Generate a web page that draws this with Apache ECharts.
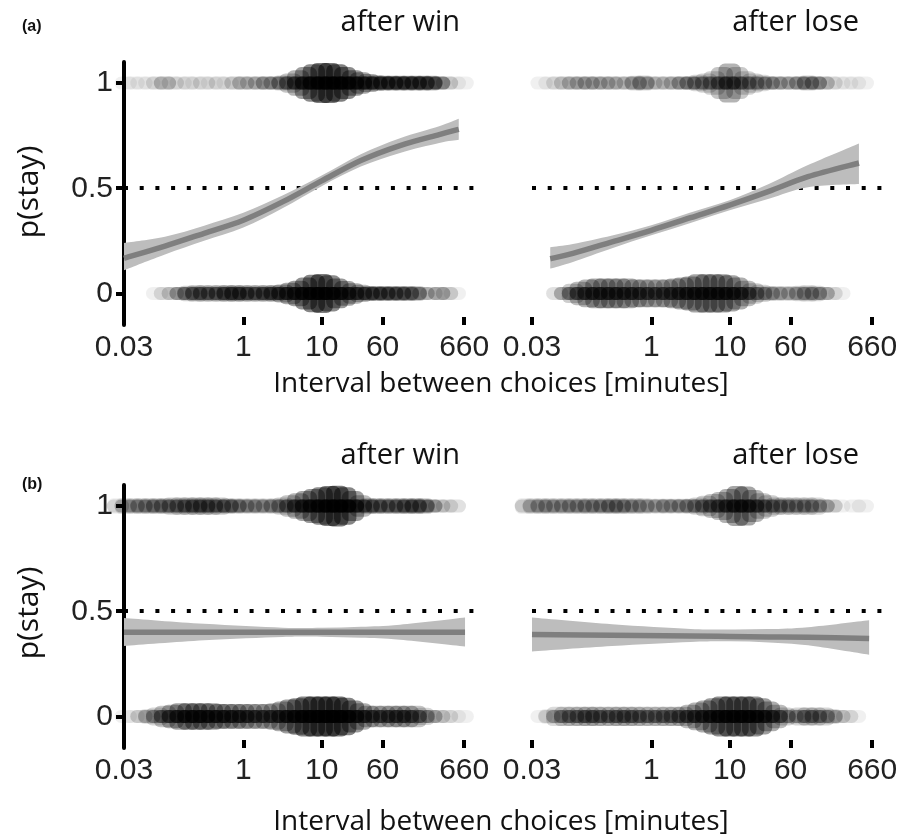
<!DOCTYPE html>
<html>
<head>
<meta charset="utf-8">
<script src="https://cdn.jsdelivr.net/npm/echarts@6/dist/echarts.min.js"></script>
<style>
html, body { margin: 0; padding: 0; background: #fff; }
#chart { width: 914px; height: 838px; }
</style>
</head>
<body>
<div id="chart"></div>
<script>
// x axis tick labels (minutes), drawn on a log10 axis
var tickMinutes = [0.03, 1, 10, 60, 660];
var tickText = ['0.03', '1', '10', '60', '660'];
var yTicks = [0, 0.5, 1];

// bin centres of the dot strips, log10(minutes)
var binLog = [-1.6, -1.5, -1.4, -1.3, -1.2, -1.1, -1.0, -0.9, -0.8, -0.7,
  -0.6, -0.5, -0.4, -0.3, -0.2, -0.1, 0, 0.1, 0.2, 0.3,
  0.4, 0.5, 0.6, 0.7, 0.8, 0.9, 1.0, 1.1, 1.2, 1.3,
  1.4, 1.5, 1.6, 1.7, 1.8, 1.9, 2.0, 2.1, 2.2, 2.3,
  2.4, 2.5, 2.6, 2.7, 2.8, 2.9];

// (a) after win: observations per bin at stay (1) and switch (0), and vertical jitter reach
var aWinStayN = [0,1,1,1,1, 2,4,2,1,2, 1,2,1,2,1, 3,4,3,4,6, 5,8,12,16,22, 28,32,34,32,28, 24,20,17,15,15, 15,14,14,14,14, 13,8,3,1,1, 0];
var aWinStayJ = [0,0,0,0,0, 0,0,0,0,0, 0,0,0,0,0, 0,0,0,0,0, 0,0.005,0.015,0.03,0.045, 0.058,0.064,0.064,0.058,0.045, 0.03,0.02,0.012,0.006,0.004, 0.004,0.004,0.004,0.004,0.004, 0.004,0,0,0,0, 0];
var aWinSwitchN = [0,0,0,0,0, 1,2,3,6,9, 11,11,9,11,14, 15,13,11,11,13, 14,16,19,22,26, 30,32,28,24,20, 17,14,13,12,12, 11,11,10,9,4, 2,5,3,1,0, 0];
var aWinSwitchJ = [0,0,0,0,0, 0,0,0,0,0.006, 0.008,0.008,0.008,0.008,0.008, 0.008,0.008,0.008,0.008,0.008, 0.008,0.012,0.02,0.03,0.045, 0.058,0.062,0.055,0.04,0.028, 0.018,0.01,0.005,0.005,0.005, 0.005,0.005,0.005,0.005,0, 0,0,0,0,0, 0];
// (a) after lose
var aLoseStayN = [0,0,1,1,2, 3,4,4,5,4, 4,4,3,3,6, 7,3,3,3,4, 6,7,8,8,9, 12,16,11,9,8, 7,6,5,4,4, 6,8,7,4,2, 1,1,1,1,0, 0];
var aLoseStayJ = [0,0,0,0,0, 0,0,0,0,0, 0,0,0,0,0.004, 0.005,0,0,0,0, 0,0,0.008,0.015,0.025, 0.045,0.062,0.045,0.025,0.015, 0.008,0,0,0,0, 0,0.005,0,0,0, 0,0,0,0,0, 0];
var aLoseSwitchN = [0,0,0,0,2, 5,10,14,16,17, 17,17,16,16,15, 14,13,13,14,16, 17,19,20,21,21, 21,20,18,14,10, 8,6,5,4,4, 6,7,7,5,2, 1,0,0,0,0, 0];
var aLoseSwitchJ = [0,0,0,0,0, 0,0.015,0.025,0.035,0.04, 0.04,0.04,0.04,0.04,0.035, 0.035,0.035,0.035,0.035,0.04, 0.045,0.05,0.06,0.06,0.06, 0.06,0.055,0.045,0.03,0.018, 0.01,0.004,0.004,0.004,0.004, 0.006,0.008,0.006,0,0, 0,0,0,0,0, 0];
// (b) after win
var bWinStayN = [3,5,6,7,7, 8,8,9,10,11, 12,12,11,10,10, 8,6,6,6,5, 7,8,12,16,20, 24,28,32,34,30, 22,14,11,10,9, 9,10,11,12,10, 6,3,2,2,0, 0];
var bWinStayJ = [0.006,0.006,0.006,0.006,0.006, 0.006,0.006,0.01,0.01,0.01, 0.01,0.01,0.01,0.01,0.005, 0.005,0.005,0.005,0.005,0.005, 0.005,0.01,0.02,0.03,0.04, 0.05,0.058,0.064,0.066,0.058, 0.04,0.02,0.006,0.006,0.006, 0.006,0.006,0.006,0.006,0.006, 0,0,0,0,0, 0];
var bWinSwitchN = [0,1,1,3,5, 8,12,16,20,22, 24,22,20,20,18, 18,17,15,14,14, 15,18,22,26,30, 32,34,35,34,30, 24,18,15,13,13, 14,15,14,12,8, 5,3,2,1,1, 0];
var bWinSwitchJ = [0,0,0,0,0.005, 0.012,0.02,0.025,0.032,0.032, 0.032,0.032,0.032,0.028,0.028, 0.028,0.028,0.028,0.028,0.028, 0.032,0.04,0.05,0.056,0.064, 0.064,0.064,0.064,0.064,0.058, 0.045,0.032,0.02,0.02,0.02, 0.02,0.02,0.02,0.02,0.01, 0,0,0,0,0, 0];
// (b) after lose
var bLoseStayN = [4,5,6,6,5, 6,6,6,7,6, 7,8,8,6,6, 6,4,5,6,5, 6,7,8,10,12, 14,17,20,20,16, 12,10,9,8,8, 7,8,7,5,3, 1,0,1,1,0, 0];
var bLoseStayJ = [0.006,0.006,0.006,0.006,0.006, 0.006,0.006,0.006,0.006,0.006, 0.006,0.006,0.006,0.006,0.006, 0.006,0.004,0.004,0.004,0.004, 0.004,0.004,0.01,0.018,0.026, 0.036,0.05,0.064,0.062,0.045, 0.03,0.02,0.01,0.01,0.01, 0.01,0.01,0.01,0,0, 0,0,0,0,0, 0];
var bLoseSwitchN = [0,0,1,3,7, 9,9,10,12,11, 9,10,11,11,10, 9,9,9,10,10, 12,14,16,18,22, 26,28,26,28,26, 22,18,14,9,4, 8,10,9,8,6, 3,2,1,0,0, 0];
var bLoseSwitchJ = [0,0,0,0.005,0.015, 0.015,0.015,0.015,0.015,0.015, 0.015,0.015,0.015,0.015,0.015, 0.015,0.015,0.015,0.015,0.015, 0.015,0.025,0.035,0.045,0.055, 0.064,0.064,0.064,0.064,0.064, 0.055,0.04,0.025,0.012,0.004, 0.012,0.012,0.012,0.012,0.005, 0,0,0,0,0, 0];

// fitted p(stay) with confidence band, x in log10(minutes)
var aWinFitX = [-1.523, -1.0, -0.5, 0, 0.5, 1.0, 1.5, 2.0, 2.5, 2.75];
var aWinFit = [0.167, 0.225, 0.286, 0.348, 0.435, 0.535, 0.632, 0.703, 0.755, 0.78];
var aWinLo = [0.11, 0.185, 0.25, 0.313, 0.405, 0.51, 0.603, 0.668, 0.715, 0.73];
var aWinHi = [0.24, 0.27, 0.322, 0.383, 0.465, 0.56, 0.662, 0.738, 0.795, 0.83];

var aLoseFitX = [-1.29, -1.0, -0.5, 0, 0.5, 1.0, 1.5, 2.0, 2.65];
var aLoseFit = [0.165, 0.19, 0.245, 0.30, 0.36, 0.42, 0.485, 0.555, 0.62];
var aLoseLo = [0.118, 0.15, 0.215, 0.276, 0.335, 0.395, 0.45, 0.505, 0.52];
var aLoseHi = [0.22, 0.235, 0.275, 0.324, 0.385, 0.443, 0.52, 0.61, 0.713];

var bWinFitX = [-1.523, -0.5, 0.5, 1.0, 1.5, 2.0, 2.83];
var bWinFit = [0.40, 0.40, 0.40, 0.40, 0.40, 0.40, 0.40];
var bWinLo = [0.335, 0.362, 0.378, 0.379, 0.374, 0.365, 0.333];
var bWinHi = [0.468, 0.44, 0.422, 0.421, 0.426, 0.436, 0.47];

var bLoseFitX = [-1.523, -0.5, 0.5, 1.0, 1.5, 2.0, 2.78];
var bLoseFit = [0.39, 0.386, 0.382, 0.38, 0.378, 0.376, 0.37];
var bLoseLo = [0.309, 0.335, 0.354, 0.357, 0.352, 0.338, 0.293];
var bLoseHi = [0.47, 0.438, 0.416, 0.413, 0.415, 0.424, 0.457];

var chart = echarts.init(document.getElementById('chart'));

var tickLog = tickMinutes.map(function (m) { return Math.log10(m); });
var binStep = binLog[1] - binLog[0];
var DOT = 13;   // dot diameter in px
function dotAlpha(k) { return 1 - Math.pow(0.94, k); }

function tickLabel(v) {
  for (var i = 0; i < tickLog.length; i++) {
    if (Math.abs(tickLog[i] - v) < 1e-6) return tickText[i];
  }
  return '';
}

// one strip of semi transparent dots (stay or switch)
function stripSeries(g, level, counts, jitter) {
  var data = [];
  for (var i = 0; i < binLog.length; i++) {
    if (counts[i] > 0) data.push([binLog[i], level, counts[i], jitter[i]]);
  }
  return {
    type: 'custom', xAxisIndex: g, yAxisIndex: g, z: 2, silent: true,
    data: data,
    renderItem: function (params, api) {
      var x = api.value(0), y = api.value(1), n = api.value(2), j = api.value(3);
      var c = api.coord([x, y]);
      var step = api.coord([x + binStep, y])[0] - c[0];
      var w = DOT + step * 1.2;
      var ext = j > 0 ? c[1] - api.coord([x, y + j])[1] : 0;
      var kids = [];
      var nCore = n;
      if (ext > 0.5) {
        kids.push({
          type: 'rect',
          shape: { x: c[0] - w / 2, y: c[1] - DOT / 2 - ext, width: w, height: DOT + 2 * ext, r: DOT / 2 },
          style: { fill: 'rgba(0,0,0,' + dotAlpha(n * 0.35).toFixed(3) + ')' }
        });
        nCore = n * 0.65;
      }
      kids.push({
        type: 'rect',
        shape: { x: c[0] - w / 2, y: c[1] - DOT / 2, width: w, height: DOT, r: DOT / 2 },
        style: { fill: 'rgba(0,0,0,' + dotAlpha(nCore).toFixed(3) + ')' }
      });
      return { type: 'group', children: kids };
    }
  };
}

// smooth path through pixel points (Catmull-Rom as cubic Bezier)
function curvePath(pts, start) {
  var d = (start ? 'M' : 'L') + pts[0][0] + ',' + pts[0][1];
  for (var i = 0; i < pts.length - 1; i++) {
    var p0 = pts[Math.max(i - 1, 0)], p1 = pts[i], p2 = pts[i + 1], p3 = pts[Math.min(i + 2, pts.length - 1)];
    var c1 = [p1[0] + (p2[0] - p0[0]) / 6, p1[1] + (p2[1] - p0[1]) / 6];
    var c2 = [p2[0] - (p3[0] - p1[0]) / 6, p2[1] - (p3[1] - p1[1]) / 6];
    d += 'C' + c1[0] + ',' + c1[1] + ',' + c2[0] + ',' + c2[1] + ',' + p2[0] + ',' + p2[1];
  }
  return d;
}

// confidence band (one filled shape), fitted line and dotted 0.5 line
function fitSeries(g, xs, fit, lo, hi) {
  return [
    {
      type: 'custom', xAxisIndex: g, yAxisIndex: g, z: 3, silent: true,
      data: xs.map(function (x, i) { return [x, lo[i], hi[i]]; }),
      renderItem: function (params, api) {
        if (params.dataIndex !== 0) return null;
        var top = xs.map(function (x, i) { return api.coord([x, hi[i]]); });
        var bot = xs.map(function (x, i) { return api.coord([x, lo[i]]); }).reverse();
        var d = curvePath(top, true) + curvePath(bot, false) + 'Z';
        return { type: 'path', shape: { pathData: d }, style: { fill: '#bdbdbd' } };
      },
      markLine: {
        silent: true, symbol: ['none', 'none'], z: 1, animation: false,
        label: { show: false },
        lineStyle: { color: '#000', width: 4, type: [4, 11.7], cap: 'butt' },
        data: [{ yAxis: 0.5 }]
      }
    },
    {
      type: 'custom', xAxisIndex: g, yAxisIndex: g, z: 4, silent: true,
      data: xs.map(function (x, i) { return [x, fit[i]]; }),
      renderItem: function (params, api) {
        if (params.dataIndex !== 0) return null;
        var pts = xs.map(function (x, i) { return api.coord([x, fit[i]]); });
        return { type: 'path', shape: { pathData: curvePath(pts, true) },
          style: { fill: 'none', stroke: '#7f7f7f', lineWidth: 5.5 } };
      }
    }
  ];
}

var grids = [
  { left: 124, top: 62, width: 352, height: 263 },
  { left: 532, top: 62, width: 352, height: 263 },
  { left: 124, top: 485, width: 352, height: 263 },
  { left: 532, top: 485, width: 352, height: 263 }
];

var xAxes = grids.map(function (gr, g) {
  return {
    type: 'value', gridIndex: g, min: tickLog[0], max: 2.97,
    axisLine: { show: false, onZero: false }, splitLine: { show: false },
    axisTick: { show: true, inside: true, length: 8, customValues: tickLog,
      lineStyle: { color: '#000', width: 4 } },
    axisLabel: { customValues: tickLog, margin: 8, fontSize: 30, color: '#222',
      fontFamily: 'Liberation Sans', formatter: tickLabel }
  };
});

var yAxes = grids.map(function (gr, g) {
  var main = (g % 2 === 0);
  return {
    type: 'value', gridIndex: g, min: -0.15, max: 1.1,
    splitLine: { show: false },
    axisLine: { show: main, onZero: false, lineStyle: { color: '#000', width: 4 } },
    axisTick: { show: main, length: 8, customValues: yTicks,
      lineStyle: { color: '#000', width: 4 } },
    axisLabel: { show: main, customValues: yTicks, margin: 11, fontSize: 30, color: '#222',
      fontFamily: 'Liberation Sans', formatter: function (v) { return String(v); } }
  };
});

var series = [].concat(
  stripSeries(0, 1, aWinStayN, aWinStayJ),
  stripSeries(0, 0, aWinSwitchN, aWinSwitchJ),
  fitSeries(0, aWinFitX, aWinFit, aWinLo, aWinHi),
  stripSeries(1, 1, aLoseStayN, aLoseStayJ),
  stripSeries(1, 0, aLoseSwitchN, aLoseSwitchJ),
  fitSeries(1, aLoseFitX, aLoseFit, aLoseLo, aLoseHi),
  stripSeries(2, 1, bWinStayN, bWinStayJ),
  stripSeries(2, 0, bWinSwitchN, bWinSwitchJ),
  fitSeries(2, bWinFitX, bWinFit, bWinLo, bWinHi),
  stripSeries(3, 1, bLoseStayN, bLoseStayJ),
  stripSeries(3, 0, bLoseSwitchN, bLoseSwitchJ),
  fitSeries(3, bLoseFitX, bLoseFit, bLoseLo, bLoseHi)
);

function label(text, x, y, opts) {
  opts = opts || {};
  return {
    type: 'text', x: x, y: y, rotation: opts.rotation || 0, silent: true,
    style: {
      text: text,
      font: opts.font || '29px "Open Sans"',
      fill: '#111',
      align: opts.align || 'center', textAlign: opts.align || 'center',
      verticalAlign: 'middle', textVerticalAlign: 'middle'
    }
  };
}

var texts = [
  label('(a)', 22, 27, { font: 'bold 16px "Liberation Sans"', align: 'left' }),
  label('(b)', 22, 485, { font: 'bold 16px "Liberation Sans"', align: 'left' }),
  label('after win', 460, 23, { align: 'right' }),
  label('after lose', 859, 23, { align: 'right' }),
  label('after win', 460, 456, { align: 'right' }),
  label('after lose', 859, 456, { align: 'right' }),
  label('p(stay)', 29, 192, { font: '30px "Open Sans"', rotation: Math.PI / 2 }),
  label('p(stay)', 29, 613, { font: '30px "Open Sans"', rotation: Math.PI / 2 }),
  label('Interval between choices [minutes]', 501, 384, { font: '28px "Open Sans"' }),
  label('Interval between choices [minutes]', 501, 822, { font: '28px "Open Sans"' })
];

chart.setOption({
  backgroundColor: '#fff',
  animation: false,
  grid: grids,
  xAxis: xAxes,
  yAxis: yAxes,
  series: series,
  graphic: texts
});

window.addEventListener('resize', function () { chart.resize(); });
</script>
</body>
</html>
